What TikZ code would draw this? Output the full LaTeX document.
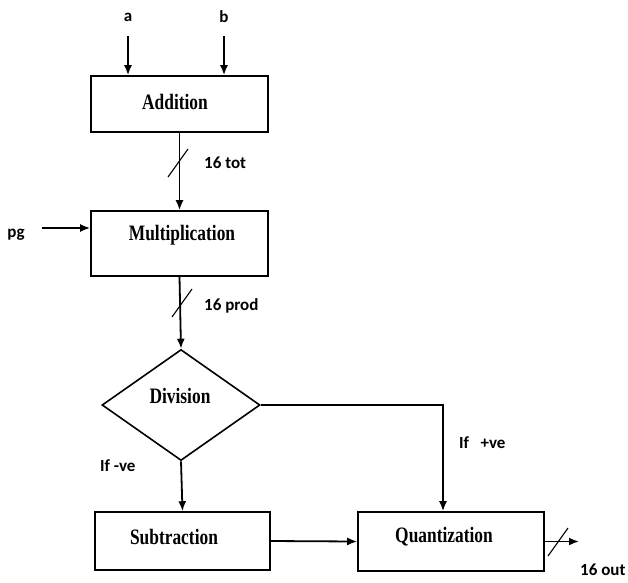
\documentclass[tikz,border=0pt]{standalone}
\usepackage{fontspec}
\setmainfont{Liberation Serif}
\newfontfamily\lblfont{Carlito}
\usetikzlibrary{shapes.geometric,arrows.meta,calc}
\begin{document}
\begin{tikzpicture}[x=1pt,y=-1pt,
  box/.style={draw,line width=1.6pt,inner sep=0pt},
  boxtext/.style={font=\fontsize{22}{22}\selectfont\bfseries,inner sep=0pt},
  lbl/.style={font=\lblfont\fontsize{17}{17}\selectfont\bfseries,inner sep=0pt},
  conn/.style={line width=1.8pt,-{Latex[length=10pt,width=8pt]}},
  slash/.style={line width=1.1pt}]
\useasboundingbox (0,0) rectangle (628,582);
% boxes
\node[box,minimum width=177pt,minimum height=56pt] (add) at (179.5,104) {};
\node[box,minimum width=177pt,minimum height=65pt] (mul) at (179.5,243.5) {};
\node[box,diamond,minimum width=158pt,minimum height=111pt,aspect=1.42] (div) at (181,405) {};
\node[box,minimum width=175pt,minimum height=58pt] (sub) at (182.5,541) {};
\node[box,minimum width=186pt,minimum height=59pt] (qua) at (451,541.5) {};
% box texts
\node[boxtext] (tadd) at (175,102) {\scalebox{0.79}[1]{Addition}};
\node[boxtext] (tmul) at (182,235) {\scalebox{0.79}[1]{Multiplication}};
\node[boxtext] (tdiv) at (180,396) {\scalebox{0.79}[1]{Division}};
\node[boxtext] (tsub) at (174,537) {\scalebox{0.79}[1]{Subtraction}};
\node[boxtext] (tqua) at (444,537) {\scalebox{0.79}[1]{Quantization}};
% inputs
\node[lbl] (a) at (128,17) {a};
\node[lbl] (b) at (224,17) {b};
\node[lbl] (pg) at (16,235) {pg};
\coordinate (as) at (128,36);
\coordinate (bs) at (224,36);
\coordinate (ps) at (42,228);
\draw[conn] (as) -- (as |- add.north);
\draw[conn] (bs) -- (bs |- add.north);
\draw[conn] (ps) -- (ps -| mul.west);
% main flow
\draw[conn] (add.south) -- (mul.north);
\draw[slash] (168,177) -- (188,149);
\node[lbl,anchor=west] (l1) at (204,163) {16 tot};
\draw[conn] (mul.south) -- (div.north);
\draw[slash] (172,317) -- (192,289);
\node[lbl,anchor=west] (l2) at (204,306) {16 prod};
\draw[conn] (div.south) -- (sub.north);
\node[lbl,anchor=west] (l3) at (100,466) {If -ve};
\coordinate (corner) at (443,405);
\draw[conn] (div.east) -- (corner) -- (corner |- qua.north);
\node[lbl,anchor=west] (l4) at (459,443) {If\ \ \ +ve};
\draw[conn] (sub.east) -- (qua.west);
\coordinate (out) at (579,541.5);
\draw[conn] (qua.east) -- (out);
\draw[slash] (548,556) -- (568,528);
\node[lbl,anchor=west] (l5) at (580,570) {16 out};
\end{tikzpicture}
\end{document}
